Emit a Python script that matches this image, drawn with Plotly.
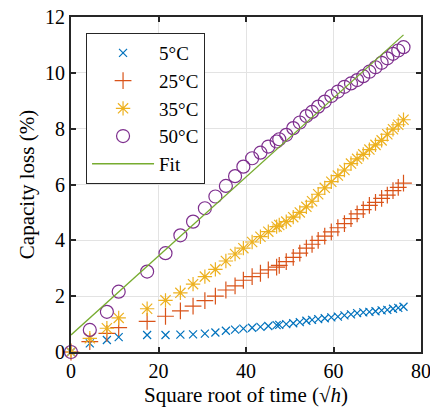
import plotly.graph_objects as go

# shared x grid (square root of time, sqrt(h))
sqrt_time = [0, 4.3, 8.2, 10.9, 17.4, 21.6, 25.0, 27.9, 30.6, 33.0, 35.4, 37.5, 39.4,
             41.4, 43.3, 45.1, 47.0, 47.6, 49.2, 50.8, 52.3, 53.8, 55.1, 56.5, 58.0,
             59.5, 61.0, 62.5, 64.0, 65.4, 66.8, 68.2, 69.6, 71.0, 72.3, 73.6, 74.8, 76.0]

loss_5C = [0, 0.31, 0.43, 0.53, 0.61, 0.61, 0.62, 0.63, 0.66, 0.70, 0.76, 0.80, 0.84,
           0.87, 0.90, 0.93, 0.96, 0.97, 1.00, 1.03, 1.07, 1.12, 1.15, 1.18, 1.21,
           1.24, 1.27, 1.31, 1.35, 1.39, 1.42, 1.44, 1.46, 1.49, 1.51, 1.55, 1.58, 1.62]

loss_25C = [0, 0.37, 0.67, 0.87, 1.10, 1.28, 1.47, 1.64, 1.84, 2.00, 2.22, 2.37, 2.57,
            2.70, 2.82, 2.94, 3.04, 3.10, 3.24, 3.39, 3.54, 3.72, 3.86, 4.00, 4.15,
            4.30, 4.45, 4.60, 4.78, 4.95, 5.10, 5.25, 5.36, 5.50, 5.62, 5.78, 5.90, 6.05]

loss_35C = [0, 0.49, 0.85, 1.22, 1.55, 1.85, 2.12, 2.43, 2.70, 2.96, 3.26, 3.51, 3.72,
            3.94, 4.13, 4.31, 4.49, 4.55, 4.67, 4.83, 5.00, 5.20, 5.40, 5.65, 5.88,
            6.10, 6.32, 6.52, 6.75, 6.92, 7.08, 7.25, 7.42, 7.58, 7.80, 7.98, 8.14, 8.32]

loss_50C = [0, 0.79, 1.44, 2.16, 2.88, 3.54, 4.18, 4.67, 5.15, 5.57, 5.95, 6.30, 6.64,
            6.94, 7.14, 7.36, 7.54, 7.62, 7.78, 8.02, 8.22, 8.45, 8.60, 8.79, 8.97,
            9.17, 9.33, 9.50, 9.62, 9.74, 9.88, 10.04, 10.20, 10.36, 10.52, 10.68, 10.80, 10.92]

fit_x = [0, 76]
fit_y = [0.61, 11.36]

x_ticks = [0, 20, 40, 60, 80]
y_ticks = [0, 2, 4, 6, 8, 10, 12]

FONT = "Liberation Serif"

fig = go.Figure()
fig.add_trace(go.Scatter(x=sqrt_time, y=loss_5C, mode="markers", name="5°C",
                         cliponaxis=False,
                         marker=dict(symbol="x-thin", size=8,
                                     line=dict(color="#0072BD", width=1.2))))
fig.add_trace(go.Scatter(x=sqrt_time, y=loss_25C, mode="markers", name="25°C",
                         cliponaxis=False,
                         marker=dict(symbol="cross-thin", size=12,
                                     line=dict(color="#D95319", width=1.2))))
fig.add_trace(go.Scatter(x=sqrt_time, y=loss_35C, mode="markers", name="35°C",
                         cliponaxis=False,
                         marker=dict(symbol="asterisk", size=12,
                                     line=dict(color="#EDB120", width=1.2))))
fig.add_trace(go.Scatter(x=sqrt_time, y=loss_50C, mode="markers", name="50°C",
                         cliponaxis=False,
                         marker=dict(symbol="circle-open", size=13, color="#7E2F8E",
                                     line=dict(color="#7E2F8E", width=1.2))))
fig.add_trace(go.Scatter(x=fit_x, y=fit_y, mode="lines", name="Fit",
                         line=dict(color="#77AC30", width=1.3)))

axis_common = dict(
    showline=True, linewidth=2, linecolor="#262626", mirror="ticks",
    ticks="inside", ticklen=5, tickwidth=1.5, tickcolor="#262626",
    showgrid=True, gridcolor="#e3e3e3", gridwidth=1, zeroline=False,
    tickfont=dict(family=FONT, size=20, color="black"),
    automargin=False, ticklabeloverflow="allow",
)

fig.update_xaxes(range=[0, 80], tickvals=x_ticks, ticktext=[str(v) for v in x_ticks],
                 title=dict(text="Square root of time (√<i>h</i>)",
                            font=dict(family=FONT, size=21, color="black"), standoff=6),
                 **axis_common)
fig.update_yaxes(range=[0, 12], tickvals=y_ticks, ticktext=[str(v) for v in y_ticks],
                 title=dict(text="Capacity loss (%)",
                            font=dict(family=FONT, size=21, color="black"), standoff=5),
                 **axis_common)

fig.update_layout(
    width=430, height=417,
    margin=dict(l=71, r=9, t=17, b=65, autoexpand=False),
    plot_bgcolor="white", paper_bgcolor="white",
    font=dict(family=FONT, size=20, color="black"),
    legend=dict(x=0.043, y=0.952, xanchor="left", yanchor="top",
                bgcolor="white", bordercolor="#262626", borderwidth=1,
                font=dict(family=FONT, size=19, color="black"),
                itemwidth=62, tracegroupgap=0),
    showlegend=True,
)

fig.write_html("out.html", config={"displayModeBar": False},
               post_script="document.body.style.margin='0';document.body.style.overflow='hidden';")
